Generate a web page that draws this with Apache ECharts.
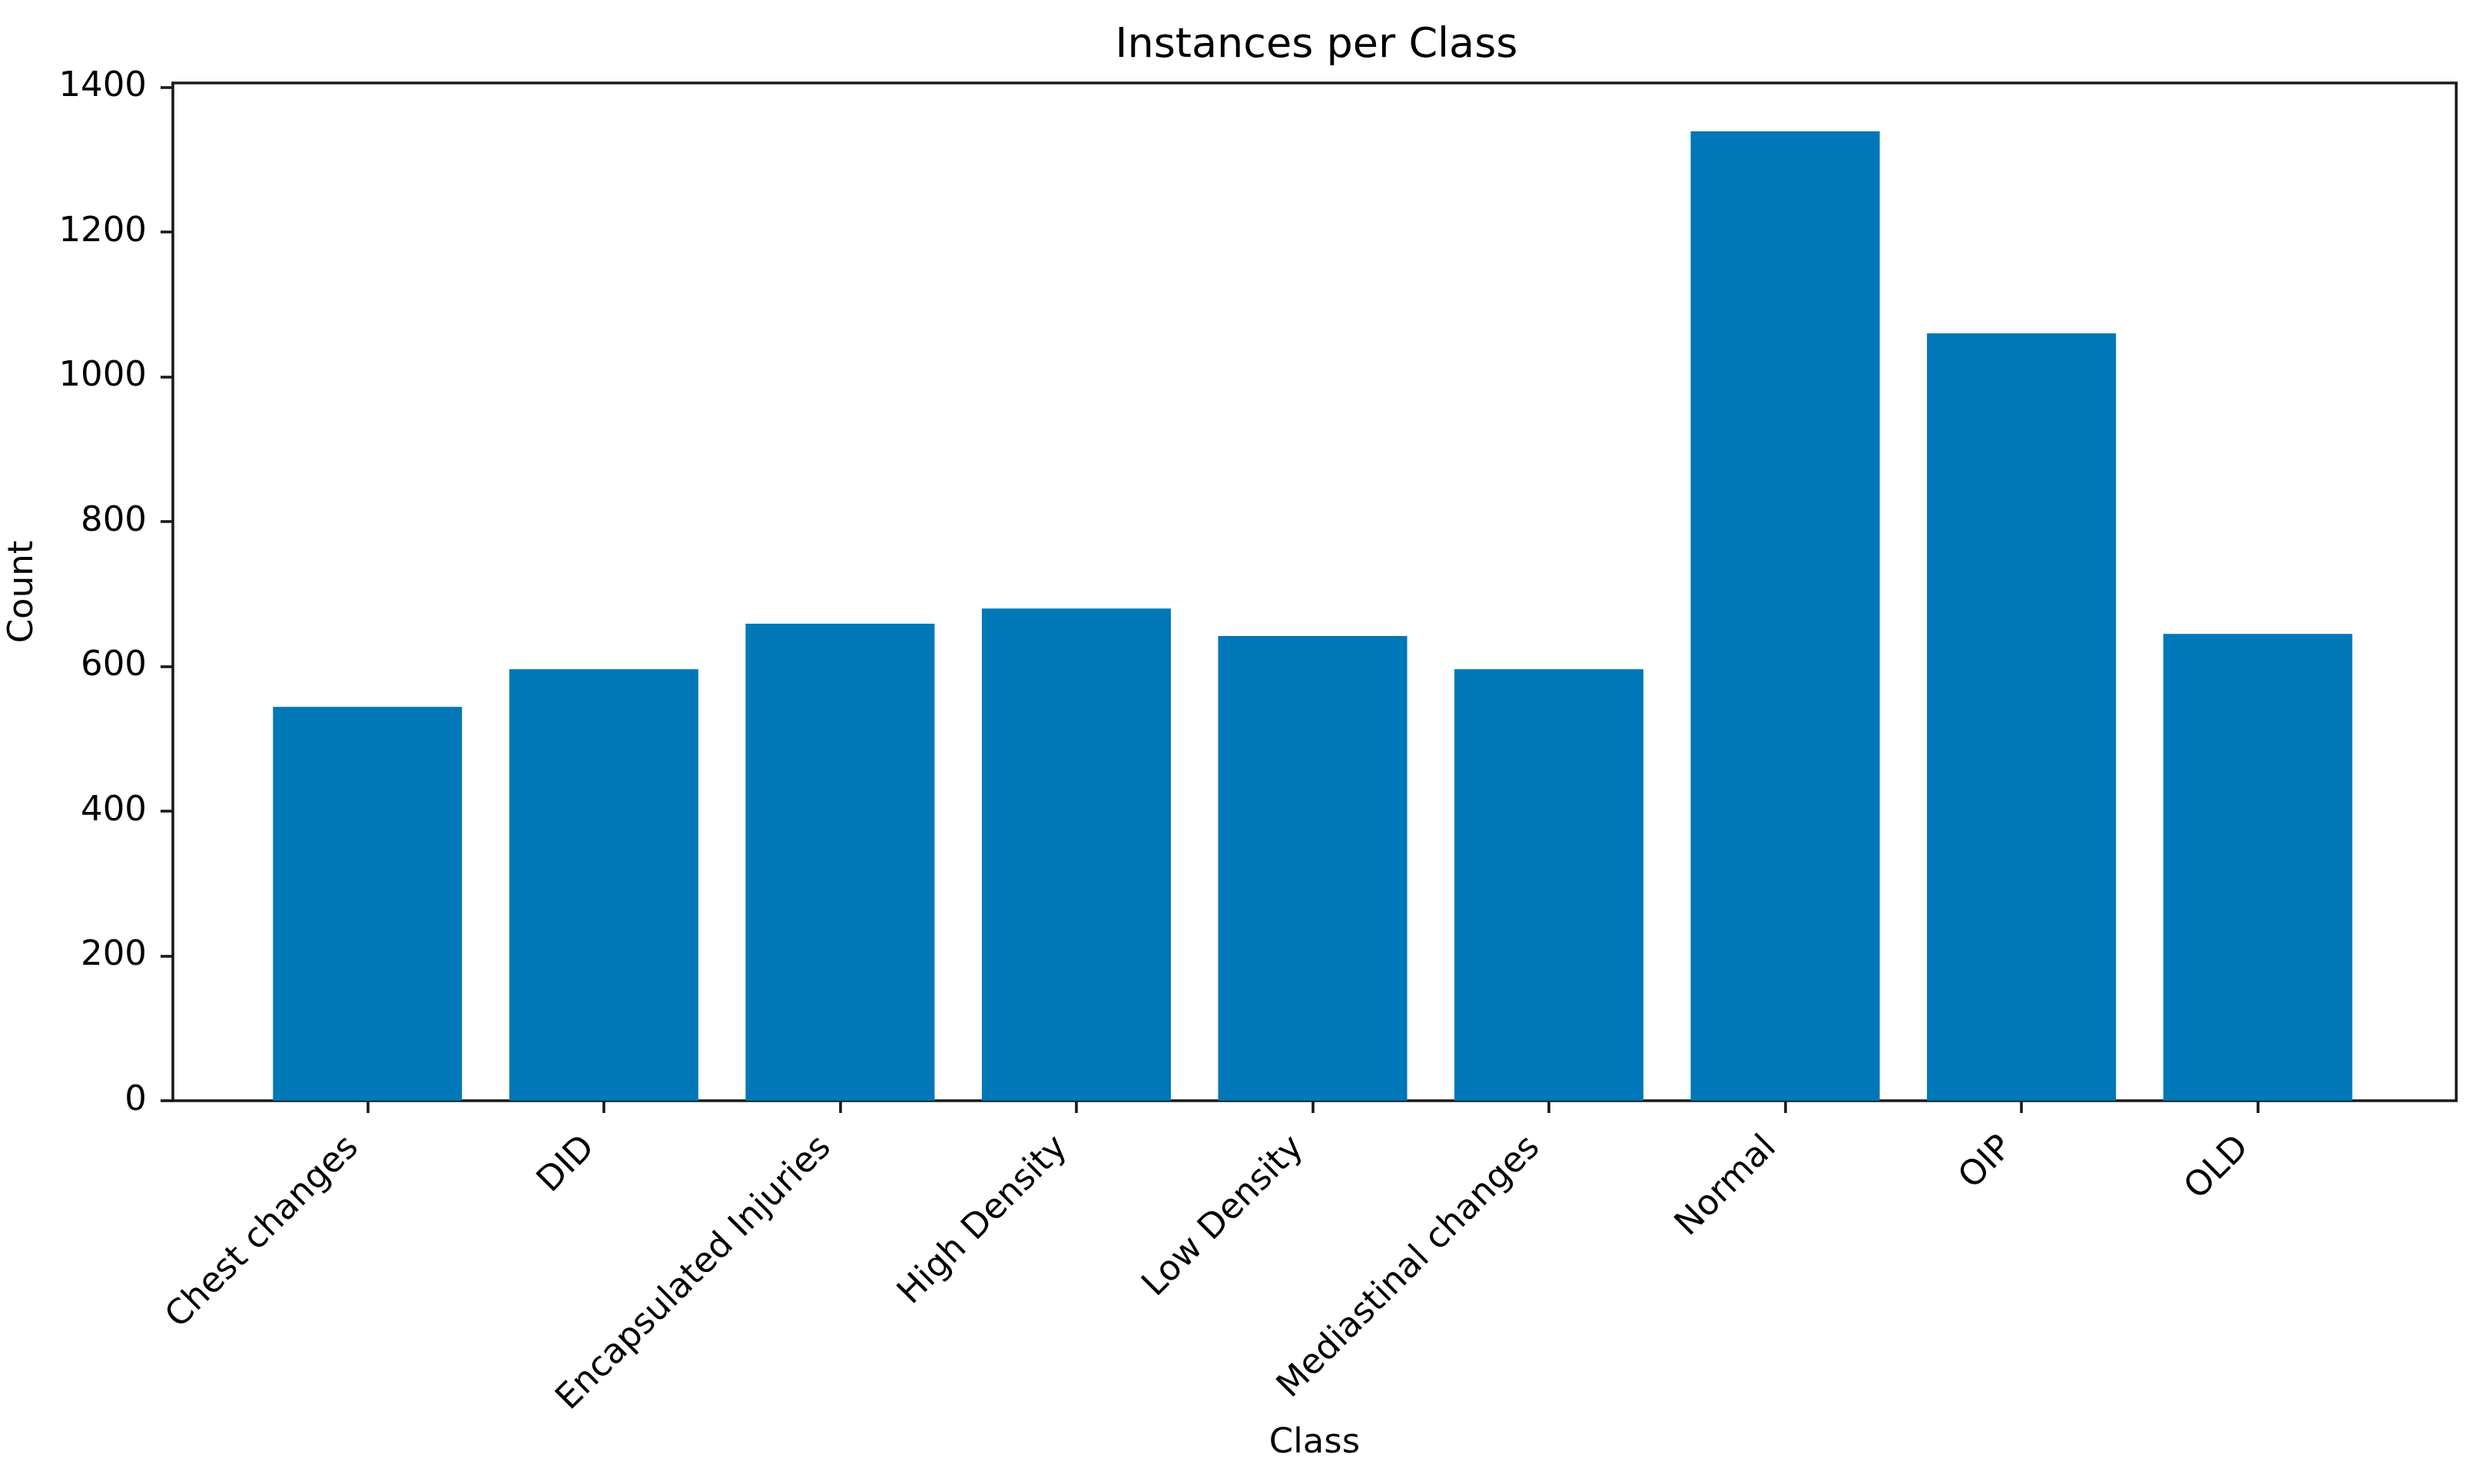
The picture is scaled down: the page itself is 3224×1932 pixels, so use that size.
<!DOCTYPE html>
<html>
<head>
<meta charset="utf-8">
<script src="https://cdn.jsdelivr.net/npm/echarts@6/dist/echarts.min.js"></script>
<style>
html,body{margin:0;padding:0;background:#fff;}
#chart{width:3224px;height:1932px;}
</style>
</head>
<body>
<div id="chart"></div>
<script>
const categories = ["Chest changes", "DID", "Encapsulated Injuries", "High Density", "Low Density", "Mediastinal changes", "Normal", "OIP", "OLD"];
const counts = [544, 596, 659, 680, 642, 596, 1339, 1060, 645];
const yTicks = [0, 200, 400, 600, 800, 1000, 1200, 1400];
const titleText = "Instances per Class";
const xName = "Class";
const yName = "Count";

const FONT = "DejaVu Sans";
const yMax = Math.max(...counts) * 1.05;

const frame = {left: 220, right: 27, top: 108, bottom: 499};
const plotW = 3224 - frame.left - frame.right;
const nCat = categories.length;
const span = (nCat - 1) + 0.8 + 0.05 * 2 * ((nCat - 1) + 0.8);
const unit = plotW / span;
const pad = (span - nCat) / 2 * unit;

const chart = echarts.init(document.getElementById('chart'), null, {renderer: 'canvas'});
chart.setOption({
  backgroundColor: '#ffffff',
  animation: false,
  title: {
    text: titleText,
    left: frame.left + plotW / 2,
    textAlign: 'center',
    top: 28,
    textStyle: {fontFamily: FONT, fontSize: 54, fontWeight: 'normal', color: '#000'}
  },
  grid: [
    {left: frame.left, right: frame.right, top: frame.top, bottom: frame.bottom,
     show: true, borderColor: '#1a1a1a', borderWidth: 3.6, backgroundColor: 'transparent', containLabel: false},
    {left: frame.left + pad, right: frame.right + pad, top: frame.top, bottom: frame.bottom, containLabel: false}
  ],
  xAxis: [
    {gridIndex: 0, type: 'value', min: 0, max: 1, show: true,
     axisLine: {show: false}, axisTick: {show: false}, axisLabel: {show: false}, splitLine: {show: false},
     name: xName, nameLocation: 'middle', nameGap: 424,
     nameTextStyle: {fontFamily: FONT, fontSize: 45, color: '#000'}},
    {gridIndex: 1, type: 'category', data: categories, boundaryGap: true,
     axisLine: {show: false},
     axisTick: {show: true, alignWithLabel: true, length: 16, lineStyle: {color: '#1a1a1a', width: 3.6}},
     axisLabel: {interval: 0, rotate: 45, margin: 36, fontFamily: FONT, fontSize: 45, color: '#000',
                 padding: [0, 26, 0, 0], hideOverlap: false},
     splitLine: {show: false}}
  ],
  yAxis: [
    {gridIndex: 0, type: 'value', min: 0, max: yMax,
     axisLine: {show: false},
     axisTick: {show: true, length: 16, lineStyle: {color: '#1a1a1a', width: 3.6}, customValues: yTicks},
     axisLabel: {margin: 34, fontFamily: FONT, fontSize: 45, color: '#000', customValues: yTicks,
                 formatter: function (v) { return String(Math.round(v)); }},
     splitLine: {show: false},
     name: yName, nameLocation: 'middle', nameGap: 172, nameRotate: 90,
     nameTextStyle: {fontFamily: FONT, fontSize: 45, color: '#000'}},
    {gridIndex: 1, type: 'value', min: 0, max: yMax, show: false, splitLine: {show: false}}
  ],
  series: [{
    type: 'bar',
    xAxisIndex: 1,
    yAxisIndex: 1,
    data: counts,
    barWidth: '80%',
    itemStyle: {color: '#0077b7'}
  }]
});
</script>
</body>
</html>
